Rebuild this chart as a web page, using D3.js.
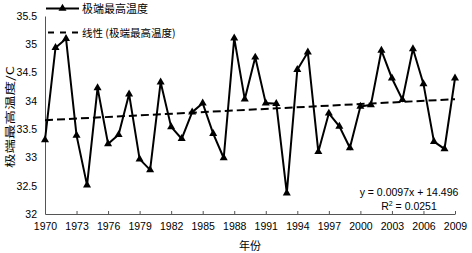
<!DOCTYPE html>
<html>
<head>
<meta charset="utf-8">
<script src="https://cdn.jsdelivr.net/npm/d3@7"></script>
<style>
  body { margin: 0; background: #fff; }
  svg { display: block; }
</style>
</head>
<body>
<div id="chart"></div>
<script>
// data
const years = d3.range(1970, 2010)
const maxTemp = [
    33.31, 34.94, 35.10, 33.39, 32.51, 34.23, 33.24, 33.40, 34.12, 32.97,
    32.78, 34.33, 33.54, 33.33, 33.80, 33.96, 33.42, 32.99, 35.11, 34.03,
    34.77, 33.96, 33.95, 32.37, 34.55, 34.86, 33.10, 33.78, 33.55, 33.17,
    33.90, 33.93, 34.89, 34.40, 34.02, 34.92, 34.30, 33.28, 33.15, 34.40
]
const xTickYears = d3.range(1970, 2010, 3)
const yTicks = [32, 32.5, 33, 33.5, 34, 34.5, 35, 35.5]
const seriesName = "极端最高温度"
const trendName = "线性 (极端最高温度)"
const equationText = "y = 0.0097x + 14.496"
const r2Value = "0.0251"

const width = 472
const height = 253
const margin = {top: 16, right: 17, bottom: 39, left: 45}

const svg = d3.select("#chart").append("svg")
    .attr("width", width)
    .attr("height", height)
    .style("font-family", "'Liberation Sans', 'Noto Sans CJK SC', sans-serif")

const x = d3.scaleLinear().domain([1970, 2009]).range([margin.left, width - margin.right])
const y = d3.scaleLinear().domain([32, 35.5]).range([height - margin.bottom, margin.top])

// axes
const xAxis = svg.append("g")
    .attr("transform", `translate(0, ${y(32)})`)
    .call(d3.axisBottom(x).tickValues(xTickYears).tickFormat(d3.format("d")).tickSizeInner(-3).tickSizeOuter(0).tickPadding(9))
xAxis.select(".domain").attr("stroke", "#555")
xAxis.selectAll(".tick line").attr("stroke", "#555")
xAxis.selectAll("text").attr("font-size", "10.5px").attr("fill", "#000")

const yAxis = svg.append("g")
    .attr("transform", `translate(${x(1970)}, 0)`)
    .call(d3.axisLeft(y).tickValues(yTicks).tickFormat(d => d).tickSize(0).tickPadding(8))
yAxis.select(".domain").attr("stroke", "#555")
yAxis.selectAll("text").attr("font-size", "10.5px").attr("fill", "#000")

// axis titles
svg.append("text")
    .attr("x", (x(1970) + x(2009)) / 2)
    .attr("y", 250)
    .attr("text-anchor", "middle")
    .attr("font-size", "11px")
    .attr("font-family", "'Noto Sans CJK SC', sans-serif")
    .text("年份")

// the reference title is stretched along its length
svg.append("text")
    .attr("transform", `translate(14, ${(y(32) + y(35.5)) / 2 + 2}) rotate(-90) scale(1, 0.72)`)
    .attr("text-anchor", "middle")
    .attr("font-size", "14.5px")
    .attr("font-family", "'Noto Sans CJK SC', sans-serif")
    .text("极端最高温度/C")

// linear trend, fitted from the series
const pts = years.map((yr, i) => [yr, maxTemp[i]])
const mx = d3.mean(years), my = d3.mean(maxTemp)
const slope = d3.sum(pts, p => (p[0] - mx) * (p[1] - my)) / d3.sum(pts, p => (p[0] - mx) ** 2)
const intercept = my - slope * mx

svg.append("line")
    .attr("x1", x(1970)).attr("y1", y(slope * 1970 + intercept))
    .attr("x2", x(2009)).attr("y2", y(slope * 2009 + intercept))
    .attr("stroke", "#000")
    .attr("stroke-width", 2)
    .attr("stroke-dasharray", "8,4")

// series line
const line = d3.line().x(d => x(d[0])).y(d => y(d[1]))
svg.append("path")
    .datum(pts)
    .attr("d", line)
    .attr("fill", "none")
    .attr("stroke", "#000")
    .attr("stroke-width", 2)
    .attr("stroke-linejoin", "miter")

const tri = d3.symbol().type(d3.symbolTriangle).size(28)
svg.selectAll("path.marker")
    .data(pts)
    .join("path")
    .attr("class", "marker")
    .attr("transform", d => `translate(${x(d[0])}, ${y(d[1])})`)
    .attr("d", tri)
    .attr("fill", "#000")

// equation
svg.append("text")
    .attr("x", 409).attr("y", 196)
    .attr("text-anchor", "middle")
    .attr("font-size", "10.5px")
    .text(equationText)
const r2 = svg.append("text")
    .attr("x", 409).attr("y", 210)
    .attr("text-anchor", "middle")
    .attr("font-size", "10.5px")
r2.append("tspan").text("R")
r2.append("tspan").attr("font-size", "7px").attr("dy", -4).text("2")
r2.append("tspan").attr("dy", 4).text(" = " + r2Value)

// legend
const legend = svg.append("g")
legend.append("line")
    .attr("x1", 46).attr("x2", 79).attr("y1", 8.5).attr("y2", 8.5)
    .attr("stroke", "#000").attr("stroke-width", 2)
legend.append("path")
    .attr("transform", "translate(62.5, 8.5)")
    .attr("d", tri)
    .attr("fill", "#000")
legend.append("text")
    .attr("x", 82).attr("y", 12.5)
    .attr("font-size", "11px")
    .attr("font-family", "'Noto Sans CJK SC', sans-serif")
    .text(seriesName)
legend.append("line")
    .attr("x1", 48).attr("x2", 80).attr("y1", 32.5).attr("y2", 32.5)
    .attr("stroke", "#000").attr("stroke-width", 2)
    .attr("stroke-dasharray", "6,6")
legend.append("text")
    .attr("x", 82).attr("y", 36.5)
    .attr("font-size", "10.5px")
    .attr("font-family", "'Noto Sans CJK SC', sans-serif")
    .text(trendName)
</script>
</body>
</html>
